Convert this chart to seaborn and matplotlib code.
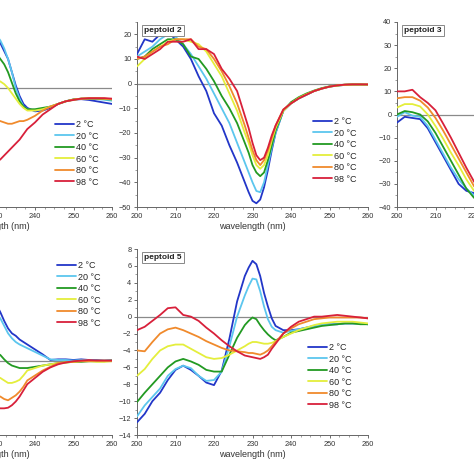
import matplotlib
matplotlib.use("Agg")
import matplotlib.pyplot as plt
from matplotlib.ticker import MultipleLocator, AutoMinorLocator
import seaborn as sns

# temperatures and colours
temps = ["2 °C", "20 °C", "40 °C", "60 °C", "80 °C", "98 °C"]
colors = ["#2236c8", "#5cc6ee", "#229a22", "#e4ee3c", "#f08a2c", "#d8203a"]

# peptoid 1 (only the red end of the range is on the canvas)
wl_p1 = [230, 231, 232, 233, 234, 235, 236, 237, 238, 240, 242, 244, 246, 248, 250, 252, 254, 256, 258, 260]
p1_vals = [
    [19, 17, 14, 11, 6, 1, -3, -6, -7.5, -8.8, -8.5, -7.5, -6, -5, -4.4, -4.2, -4.5, -5, -5.5, -6],
    [20, 18, 15, 11, 6, 0, -4, -7, -8, -8.5, -8, -7, -6, -5, -4.3, -4, -4, -4.2, -4.4, -4.8],
    [13, 11, 9, 6, 2, -2, -5, -7, -8, -8, -7.5, -7, -6, -5, -4.3, -4, -4, -4, -4.2, -4.3],
    [3, 2.5, 1.5, 0, -2, -4, -6, -7.5, -8.5, -8.5, -8, -7, -6, -5, -4.5, -4, -3.8, -3.8, -4, -4.3],
    [-12, -12.5, -13, -13.5, -13.5, -13, -12.5, -12.5, -12, -10.5, -8.5, -7, -6, -5, -4.3, -4, -4, -4, -4, -4.2],
    [-28, -27, -25.5, -24, -22.5, -21, -19.5, -17.5, -15.5, -13, -10, -8, -6, -5, -4.5, -4, -3.8, -3.8, -3.8, -4],
]

# peptoid 2 and peptoid 5 share the wavelength grid
wl_mid = [200, 202, 204, 206, 208, 210, 212, 214, 216, 218, 220, 222, 224, 226, 228,
          229, 230, 231, 232, 233, 234, 235, 236,
          238, 240, 242, 244, 246, 248, 250, 252, 254, 256, 258, 260]
p2_vals = [
    [12, 18, 17, 20, 21, 18, 15, 10, 3, -3, -12, -17, -25, -32, -40,
     -44, -47.5, -48.5, -47, -42, -35, -27, -20,
     -11, -8, -6, -4.5, -3, -2, -1.2, -0.8, -0.5, -0.4, -0.4, -0.5],
    [11, 13, 15, 18, 20, 19, 16, 12, 7, 2, -4, -10, -16, -24, -32,
     -36, -40, -43.5, -44, -40, -33, -26, -20,
     -11, -8, -6, -4.5, -3, -2, -1.2, -0.8, -0.5, -0.4, -0.4, -0.5],
    [10, 11, 14, 16, 18, 18, 16, 11, 10, 6, 1, -5, -10, -16, -24,
     -28, -33, -36, -37.5, -36, -31, -25, -19,
     -11, -7.5, -5.5, -4, -2.8, -1.8, -1.1, -0.7, -0.4, -0.3, -0.3, -0.4],
    [7, 10, 13, 15, 17, 18, 18, 17, 16, 13, 8, 3, -4, -11, -20,
     -24, -29, -33, -34.5, -33, -29, -23, -18,
     -11, -8, -5.8, -4.3, -3, -2, -1.2, -0.8, -0.5, -0.4, -0.4, -0.4],
    [10, 11, 13, 15, 16, 18, 18, 18, 15, 14, 10, 5, -1, -8, -17,
     -22, -27, -31, -33, -31, -27, -22, -17,
     -10.5, -8, -6, -4.4, -3, -2, -1.2, -0.7, -0.4, -0.3, -0.3, -0.3],
    [11, 10, 12, 14, 17, 17, 17, 18, 14, 14, 12, 6, 2, -3, -13,
     -18, -24, -29, -31, -30, -26, -21, -17,
     -10.5, -8, -6, -4.5, -3, -2, -1.2, -0.7, -0.4, -0.3, -0.3, -0.3],
]

# peptoid 3 (only the blue end of the range is on the canvas)
wl_p3 = [200, 202, 204, 206, 208, 210, 212, 214, 216, 218, 220, 222]
p3_vals = [
    [-3.5, -1, -1.5, -2, -6, -12, -18, -24, -30, -33, -34, -35],
    [-1, 1, -0.5, -1, -5, -11, -17, -23, -28, -32, -35, -36],
    [0, 1.5, 1, 0, -3, -8, -14, -20, -26, -32, -36, -38],
    [3, 4.5, 4.5, 3.5, 0, -5, -10.5, -16.5, -22, -28, -33, -36],
    [7, 7.5, 7.5, 6, 3, -1.5, -7, -13, -19, -25, -31, -34],
    [10, 10, 10.7, 7.5, 5, 1.8, -4, -10, -16.5, -23, -29, -33],
]

# peptoid 4 (only the red end)
p4_vals = [
    [4.5, 3.9, 3.2, 2.6, 2.2, 2, 1.7, 1.5, 1.3, 0.9, 0.5, 0.05, 0.1, 0.1, 0.05, 0.1, 0.05, 0.05, 0, 0.05],
    [3.8, 3.4, 2.8, 2.2, 1.8, 1.5, 1.3, 1.15, 1.0, 0.7, 0.4, 0.1, 0.05, 0.05, 0, 0.05, 0.05, 0, 0, 0.05],
    [0.6, 0.45, 0.1, -0.2, -0.4, -0.5, -0.6, -0.6, -0.6, -0.5, -0.4, -0.3, -0.2, -0.15, -0.1, -0.1, -0.05, -0.05, -0.05, 0],
    [-1.3, -1.4, -1.6, -1.8, -1.8, -1.7, -1.55, -1.2, -0.8, -0.6, -0.4, -0.3, -0.2, -0.15, -0.1, -0.05, -0.05, -0.1, -0.1, -0.05],
    [-2.8, -2.9, -3.1, -3.2, -3.0, -2.8, -2.5, -2.1, -1.6, -1.2, -0.8, -0.5, -0.2, -0.15, -0.1, -0.05, -0.05, 0, 0, 0],
    [-3.8, -3.85, -3.85, -3.8, -3.6, -3.3, -2.9, -2.4, -1.9, -1.4, -0.9, -0.55, -0.3, -0.15, -0.05, 0, 0.05, 0, 0, 0],
]

# peptoid 5
p5_vals = [
    [-12.5, -11.5, -10, -9, -7.5, -6.3, -5.8, -6.3, -7, -7.8, -8.1, -6.4, -2.6, 1.8, 4.8,
     5.8, 6.6, 6.2, 4.8, 2.8, 1.2, -0.2, -1.1,
     -1.6, -1.6, -1.5, -1.3, -1.1, -1, -0.9, -0.9, -0.8, -0.8, -0.8, -0.9],
    [-11.8, -10.5, -9.5, -8.5, -7, -6.2, -5.8, -6.1, -7, -7.6, -7.5, -6.5, -3.5, 0, 2.5,
     3.6, 4.5, 4.4, 3, 1.2, -0.3, -1.2, -1.6,
     -1.9, -1.7, -1.5, -1.3, -1.1, -1, -0.9, -0.9, -0.8, -0.8, -0.8, -0.9],
    [-10.1, -9, -8, -7, -6, -5.3, -5, -5.3, -5.7, -6.3, -6.5, -6.5, -4.5, -2.5, -1,
     -0.5, -0.1, -0.3, -1, -1.6, -2.1, -2.5, -2.8,
     -2.4, -1.9, -1.7, -1.5, -1.3, -1.1, -1, -0.9, -0.8, -0.8, -0.9, -0.9],
    [-7, -6.2, -5, -4, -3.5, -3.3, -3.3, -3.8, -4.3, -4.8, -5, -4.9, -4.5, -4, -3.5,
     -3.2, -3, -3, -3.1, -3.2, -3.2, -3.1, -2.9,
     -2.4, -2, -1.6, -1.3, -1, -0.8, -0.7, -0.6, -0.6, -0.6, -0.7, -0.8],
    [-4, -4.1, -3, -2, -1.5, -1.3, -1.6, -2, -2.4, -2.9, -3.3, -3.7, -4, -4.1, -4.2,
     -4.3, -4.3, -4.4, -4.5, -4.3, -4, -3.5, -3,
     -2, -1.4, -0.9, -0.6, -0.3, -0.2, -0.1, -0.1, -0.1, -0.1, -0.1, -0.2],
    [-1.6, -1.2, -0.5, 0.2, 1.0, 1.1, 0.2, 0, -0.5, -1.3, -2, -2.8, -3.5, -4.1, -4.6,
     -4.7, -4.8, -4.9, -5, -4.8, -4.5, -3.8, -3.2,
     -2, -1.2, -0.6, -0.3, 0, 0, 0.1, 0.2, 0.1, 0, -0.1, -0.2],
]

sns.set_style("ticks")
plt.rcParams["font.family"] = ["Liberation Sans", "DejaVu Sans"]

W = 474.0
fig = plt.figure(figsize=(4.74, 4.74), dpi=100)


def px_axes(left, top, right, bottom):
    # pixel box -> figure fraction
    return fig.add_axes([left / W, 1 - bottom / W, (right - left) / W, (bottom - top) / W])


def draw_panel(ax, wl, vals, ylim, ystep, yminor, name=None, leg_xy=None):
    ax.axhline(0, color="#8a8a8a", lw=0.9, zorder=1)
    for lab, col, v in zip(temps, colors, vals):
        sns.lineplot(x=wl, y=v, color=col, lw=1.3, label=lab, ax=ax, zorder=3)
    ax.set_xlim(200, 260)
    ax.set_ylim(*ylim)
    ax.xaxis.set_major_locator(MultipleLocator(10))
    ax.xaxis.set_minor_locator(MultipleLocator(2.5))
    ax.yaxis.set_major_locator(MultipleLocator(ystep))
    ax.yaxis.set_minor_locator(MultipleLocator(yminor))
    ax.tick_params(axis="both", which="major", labelsize=5.3, length=2.5, width=0.6,
                   pad=1.5, colors="#555555", labelcolor="#333333")
    ax.tick_params(axis="both", which="minor", length=1.5, width=0.5, colors="#777777")
    for s in ["top", "right"]:
        ax.spines[s].set_visible(False)
    for s in ["left", "bottom"]:
        ax.spines[s].set_color("#666666")
        ax.spines[s].set_linewidth(0.7)
    ax.set_xlabel("wavelength (nm)", fontsize=6.5, color="#333333", labelpad=2)
    ax.set_ylabel("")
    if name:
        ax.text(0.03, 0.975, name, transform=ax.transAxes, ha="left", va="top",
                fontsize=6, fontweight="bold", color="#222222",
                bbox=dict(boxstyle="square,pad=0.25", fc="white", ec="#888888", lw=0.7))
    if leg_xy:
        ax.legend(loc="upper left", bbox_to_anchor=(leg_xy[0] / W, 1 - leg_xy[1] / W),
                  bbox_transform=fig.transFigure, frameon=False, fontsize=6.5,
                  handlelength=2.1, handletextpad=0.25, labelspacing=0.28,
                  borderpad=0, borderaxespad=0)
    else:
        ax.get_legend().remove()


ax1 = px_axes(-119, 22, 112, 207)
draw_panel(ax1, wl_p1, p1_vals, (-45, 25), 10, 5, leg_xy=(55, 120))

ax2 = px_axes(137, 22, 368, 207)
draw_panel(ax2, wl_mid, p2_vals, (-50, 25), 10, 5, name="peptoid 2", leg_xy=(313, 117))

ax3 = px_axes(397, 22, 628, 207)
draw_panel(ax3, wl_p3, p3_vals, (-40, 40), 10, 5, name="peptoid 3")

ax4 = px_axes(-119, 249, 112, 435)
draw_panel(ax4, wl_p1, p4_vals, (-6, 9), 2, 1, leg_xy=(57, 261))

ax5 = px_axes(137, 249, 368, 435)
draw_panel(ax5, wl_mid, p5_vals, (-14, 8), 2, 1, name="peptoid 5", leg_xy=(308, 343))

fig.savefig("out.png", dpi=100)
